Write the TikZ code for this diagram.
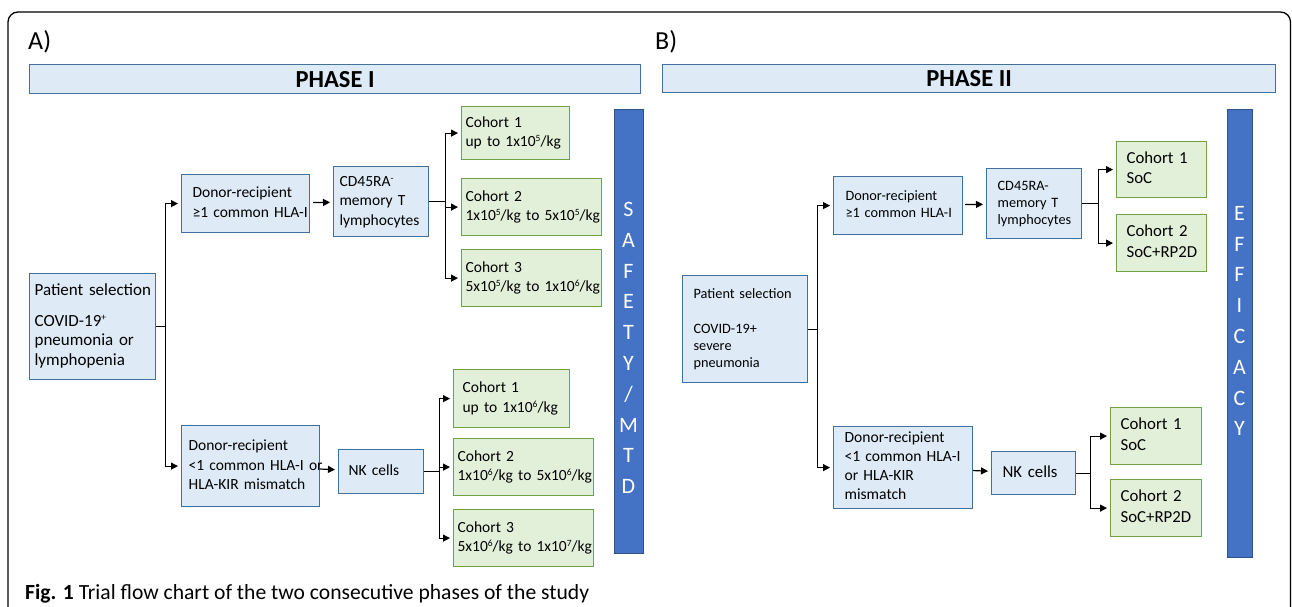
\documentclass[tikz,border=0pt]{standalone}
\usepackage{fontspec}
\setmainfont{Carlito}
\usetikzlibrary{arrows.meta}

\definecolor{stagefill}{RGB}{222,235,247}
\definecolor{stageline}{RGB}{65,113,156}
\definecolor{cohortfill}{RGB}{226,240,217}
\definecolor{cohortline}{RGB}{112,163,72}
\definecolor{barfill}{RGB}{68,114,196}
\definecolor{barline}{RGB}{47,82,143}

\newcommand{\boxfont}{\fontsize{15.5}{19.5}\selectfont}
\newcommand{\patfont}{\fontsize{17}{19.5}\selectfont}
\newcommand{\smallboxfont}{\fontsize{14.3}{17}\selectfont}
\newcommand{\cohortfont}{\fontsize{16.8}{20.5}\selectfont}
\newcommand{\phasefont}{\fontsize{24.5}{28}\selectfont\bfseries}
\newcommand{\panelfont}{\fontsize{26}{30}\selectfont}
\newcommand{\letterfont}{\fontsize{22}{30.8}\selectfont}
\newcommand{\capfont}{\fontsize{21.6}{24}\selectfont}
% lines of a box, never broken
\newcommand{\boxlines}[1]{\begin{tabular}{@{}l@{}}#1\end{tabular}}
% small raised exponent
\newcommand{\expo}[1]{\raisebox{0.32em}{\fontsize{9.5}{9.5}\selectfont #1}}

\begin{document}
\begin{tikzpicture}[x=1pt, y=-1pt,
	stage/.style={draw=stageline, fill=stagefill, line width=1.2pt, inner xsep=5pt, inner ysep=0pt, align=left, anchor=north west, font=\boxfont},
	cohort/.style={stage, draw=cohortline, fill=cohortfill, inner xsep=4pt},
	phase/.style={draw=stageline, fill=stagefill, line width=1.2pt, anchor=north west, inner sep=0pt, font=\phasefont},
	outcome/.style={draw=barline, fill=barfill, line width=1.2pt, anchor=north west, inner sep=0pt},
	letters/.style={text=white, align=center, inner sep=0pt, font=\letterfont},
	arrow/.style={line width=1.2pt, -{Triangle[length=7pt,width=7pt]}, shorten >=3pt}]
	\useasboundingbox (0,0) rectangle (1292,607);
	\draw[line width=1.3pt, rounded corners=10pt] (8,607) -- (8,12) -- (1290.5,12) -- (1290.5,607);

	% A) phase I
	\node[anchor=west, inner sep=0pt, font=\panelfont] (lblA) at (28,42) {A)};
	\node[phase, minimum width=611pt, minimum height=29pt] (ph1) at (29,64) {PHASE I};

	\node[stage, text width=116pt, minimum height=106pt, font=\patfont] (pat) at (29,273) {\boxlines{Patient selection\\[11pt]COVID-19\expo{+}\\pneumonia or\\lymphopenia}};
	\node[stage, inner xsep=11pt, text width=106pt, minimum height=58pt] (don1) at (181,174) {\boxlines{Donor-recipient\\≥1 common HLA-I}};
	\node[stage, inner xsep=6pt, text width=83pt, minimum height=70pt] (cd45) at (333,166) {\boxlines{CD45RA\expo{-}\\memory T\\lymphocytes}};
	\node[cohort, text width=100pt, minimum height=53pt] (c1) at (461,106) {\boxlines{Cohort 1\\up to 1x10\expo{5}/kg}};
	\node[cohort, text width=132pt, minimum height=57pt] (c2) at (461,178) {\boxlines{Cohort 2\\1x10\expo{5}/kg to 5x10\expo{5}/kg}};
	\node[cohort, text width=132pt, minimum height=57pt] (c3) at (461,249) {\boxlines{Cohort 3\\5x10\expo{5}/kg to 1x10\expo{6}/kg}};

	\node[stage, inner xsep=7pt, text width=124pt, minimum height=81pt] (don2) at (181,425) {\boxlines{Donor-recipient\\<1 common HLA-I or\\HLA-KIR mismatch}};
	\node[stage, inner xsep=10pt, text width=65pt, minimum height=44pt] (nk) at (338,449) {\boxlines{NK cells}};
	\node[cohort, inner xsep=9pt, text width=98pt, minimum height=58pt] (nc1) at (453,369) {\boxlines{Cohort 1\\up to 1x10\expo{6}/kg}};
	\node[cohort, text width=132pt, minimum height=57pt] (nc2) at (453,438) {\boxlines{Cohort 2\\1x10\expo{6}/kg to 5x10\expo{6}/kg}};
	\node[cohort, text width=132pt, minimum height=57pt] (nc3) at (453,509) {\boxlines{Cohort 3\\5x10\expo{6}/kg to 1x10\expo{7}/kg}};

	\node[outcome, minimum width=29pt, minimum height=444pt] (safety) at (614,109) {};
	\node[letters] (safetytxt) at (628.5,348) {S\\A\\F\\E\\T\\Y\\/\\M\\T\\D};

	\draw[arrow] (pat.east) -- ++(9,0) |- (don1.west);
	\draw[arrow] (pat.east) -- ++(9,0) |- (don2.west);
	\draw[arrow, shorten <=3pt] (don1) -- (cd45);
	\draw[arrow] (cd45.east) -- ++(16,0) |- (c1.west);
	\draw[arrow] (cd45.east) -- ++(16,0) |- (c2.west);
	\draw[arrow] (cd45.east) -- ++(16,0) |- (c3.west);
	\draw[arrow] (don2) -- (nk);
	\draw[arrow] (nk.east) -- ++(15,0) |- (nc1.west);
	\draw[arrow] (nk.east) -- ++(15,0) |- (nc2.west);
	\draw[arrow] (nk.east) -- ++(15,0) |- (nc3.west);

	% B) phase II
	\node[anchor=west, inner sep=0pt, font=\panelfont] (lblB) at (655,42) {B)};
	\node[phase, minimum width=613pt, minimum height=28pt] (ph2) at (662,64) {PHASE II};

	\node[stage, inner xsep=11pt, text width=103pt, minimum height=107pt, font=\smallboxfont] (pat2) at (682,275) {\boxlines{Patient selection\\[18pt]COVID-19+\\severe\\pneumonia}};
	\node[stage, inner xsep=12pt, text width=105pt, minimum height=58pt, font=\smallboxfont] (don3) at (833,176) {\boxlines{Donor-recipient\\≥1 common HLA-I}};
	\node[stage, inner xsep=11pt, text width=73pt, minimum height=70pt, font=\smallboxfont] (cd45b) at (986,168) {\boxlines{CD45RA-\\memory T\\lymphocytes}};
	\node[cohort, inner xsep=10pt, text width=70pt, minimum height=56pt, font=\cohortfont] (rc1) at (1116,141) {\boxlines{Cohort 1\\SoC}};
	\node[cohort, inner xsep=10pt, text width=70pt, minimum height=57pt, font=\cohortfont] (rc2) at (1116,214) {\boxlines{Cohort 2\\SoC+RP2D}};

	\node[stage, inner xsep=11pt, text width=117pt, minimum height=82pt, font=\fontsize{15.6}{19}\selectfont] (don4) at (833,426) {\boxlines{Donor-recipient\\<1 common HLA-I\\or HLA-KIR\\mismatch}};
	\node[stage, inner xsep=11pt, text width=62pt, minimum height=43pt, font=\cohortfont] (nk2) at (991,451) {\boxlines{NK cells}};
	\node[cohort, inner xsep=10pt, text width=71pt, minimum height=57pt, font=\cohortfont] (rn1) at (1110,407) {\boxlines{Cohort 1\\SoC}};
	\node[cohort, inner xsep=10pt, text width=71pt, minimum height=57pt, font=\cohortfont] (rn2) at (1110,479) {\boxlines{Cohort 2\\SoC+RP2D}};

	\node[outcome, minimum width=25pt, minimum height=448pt] (efficacy) at (1227,109) {};
	\node[letters] (efficacytxt) at (1239.5,321) {E\\F\\F\\I\\C\\A\\C\\Y};

	\draw[arrow] (pat2.east) -- ++(9,0) |- (don3.west);
	\draw[arrow] (pat2.east) -- ++(9,0) |- (don4.west);
	\draw[arrow, shorten <=2pt] (don3) -- (cd45b);
	\draw[arrow] (cd45b.east) -- ++(16,0) |- (rc1.west);
	\draw[arrow] (cd45b.east) -- ++(16,0) |- (rc2.west);
	\draw[arrow] (don4) -- (nk2);
	\draw[arrow] (nk2.east) -- ++(14,0) |- (rn1.west);
	\draw[arrow] (nk2.east) -- ++(14,0) |- (rn2.west);

	% caption
	\node[anchor=base west, inner sep=0pt, font=\capfont] (caption) at (25,599) {\textbf{Fig. 1} Trial flow chart of the two consecutive phases of the study};
\end{tikzpicture}
\end{document}
